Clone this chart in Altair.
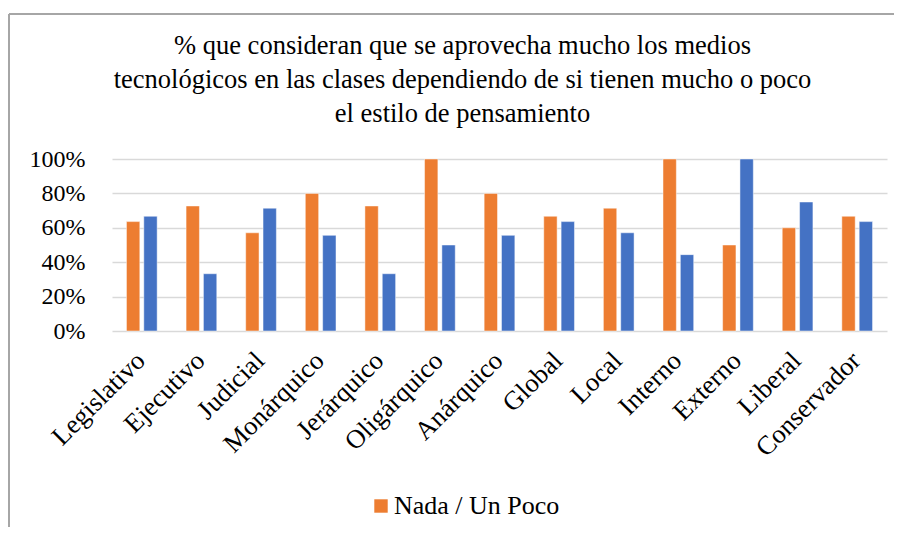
import altair as alt
import pandas as pd

categorias = ["Legislativo", "Ejecutivo", "Judicial", "Monárquico", "Jerárquico",
              "Oligárquico", "Anárquico", "Global", "Local", "Interno", "Externo",
              "Liberal", "Conservador"]
nada_un_poco = [0.636, 0.727, 0.571, 0.80, 0.727, 1.0, 0.80, 0.667, 0.714, 1.0, 0.50, 0.60, 0.667]
mucho = [0.667, 0.333, 0.714, 0.556, 0.333, 0.50, 0.556, 0.636, 0.571, 0.444, 1.0, 0.75, 0.636]
series = ["Nada / Un Poco", "Mucho"]
colores = ["#ED7D31", "#4472C4"]
ticks_y = [0, 0.2, 0.4, 0.6, 0.8, 1.0]
titulo = ["% que consideran que se aprovecha mucho los medios",
          "tecnológicos en las clases dependiendo de si tienen mucho o poco",
          "el estilo de pensamiento"]

rows = []
for c, a, b in zip(categorias, nada_un_poco, mucho):
    rows.append({"cat": c, "serie": series[0], "valor": a})
    rows.append({"cat": c, "serie": series[1], "valor": b})
df = pd.DataFrame(rows)

FONT = "Liberation Serif, Times New Roman, serif"
W, H = 775, 172

bars = alt.Chart(df).mark_bar(stroke="white", strokeWidth=0.8, strokeOpacity=0.6).encode(
    x=alt.X("cat:N", sort=categorias,
            scale=alt.Scale(paddingInner=0.485, paddingOuter=0.2425),
            axis=alt.Axis(title=None, labelAngle=-45, labelAlign="right", labelBaseline="top",
                          labelFont=FONT, labelFontSize=26.5, labelColor="black",
                          ticks=False, tickSize=0, domain=False, labelPadding=16,
                          labelOffset=-10)),
    xOffset=alt.XOffset("serie:N", sort=series,
                        scale=alt.Scale(paddingInner=0.23, paddingOuter=0)),
    y=alt.Y("valor:Q", scale=alt.Scale(domain=[0, 1]),
            axis=alt.Axis(title=None, format=".0%", values=ticks_y, labelFont=FONT,
                          labelFontSize=24, labelColor="black", ticks=False, tickSize=0,
                          domain=False, labelPadding=27, gridColor="#D9D9D9",
                          gridWidth=1.5)),
    color=alt.Color("serie:N",
                    scale=alt.Scale(domain=series, range=colores),
                    legend=alt.Legend(values=[series[0]], orient="none", legendX=256,
                                      legendY=334, title=None, symbolType="square",
                                      symbolSize=180, symbolStrokeWidth=0,
                                      labelFont=FONT, labelFontSize=26, labelColor="black",
                                      labelOffset=0, labelLimit=500, padding=0)),
)

frame_top = alt.Chart(df).mark_rule(color="#A6A6A6", strokeWidth=1.5).encode(
    x=alt.value(-103), x2=alt.value(800), y=alt.value(-145))
frame_left = alt.Chart(df).mark_rule(color="#A6A6A6", strokeWidth=1.5).encode(
    x=alt.value(-103), y=alt.value(-145), y2=alt.value(400))

chart = alt.layer(frame_top, frame_left, bars).properties(
    width=W, height=H,
    title=alt.TitleParams(text=titulo, font=FONT, fontSize=26.5, fontWeight="normal",
                          color="black", lineHeight=34, anchor="middle", dx=-37,
                          offset=0, dy=114),
    padding={"left": 104, "top": 151, "right": 7, "bottom": 196},
    autosize=alt.AutoSizeParams(type="none"),
).configure_view(stroke=None)

chart.save("out.html", embed_options={"renderer": "svg", "actions": False})
